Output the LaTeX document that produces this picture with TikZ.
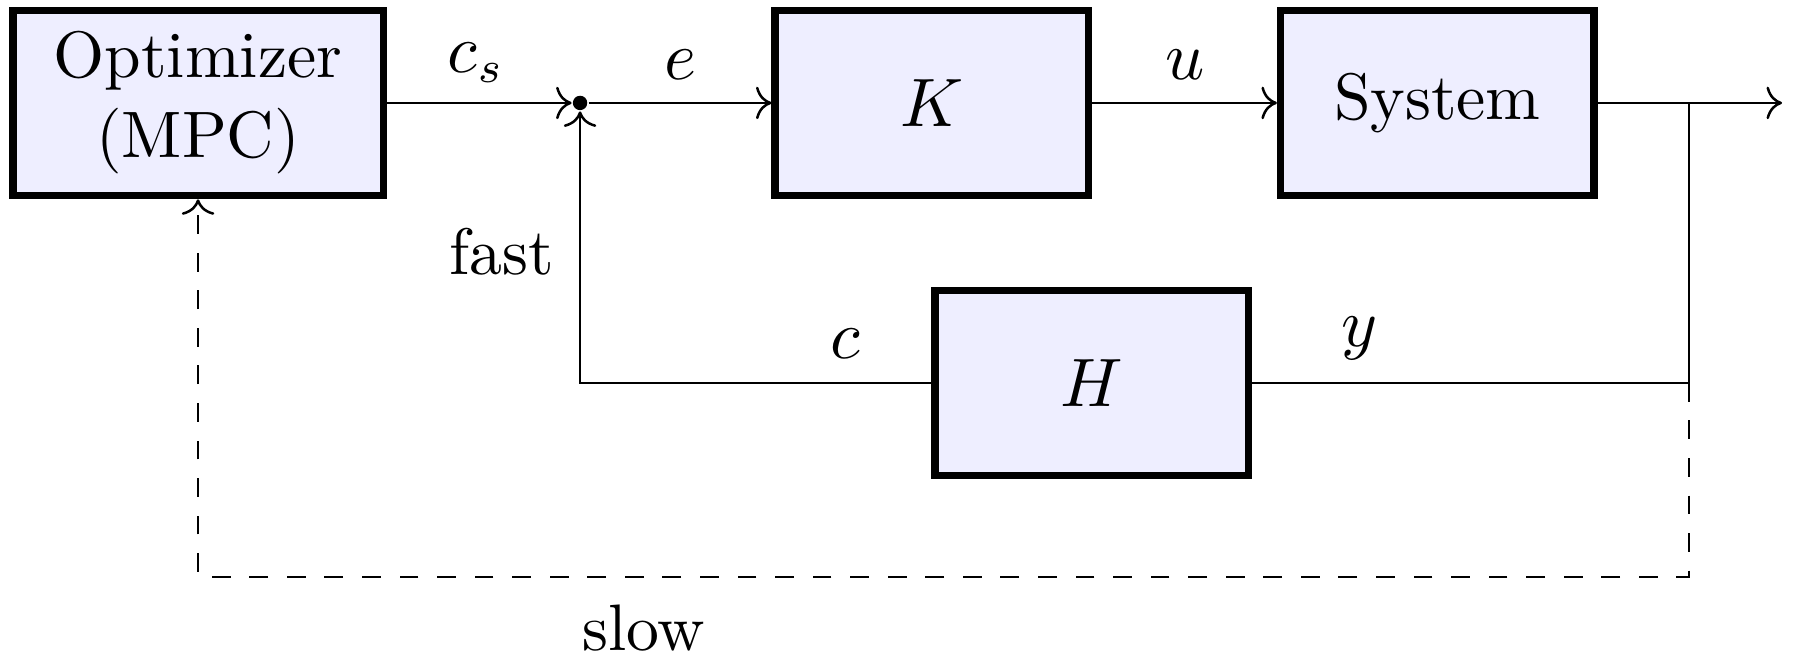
\documentclass[tikz,border=0pt]{standalone}
\usepackage{tikz}
\usetikzlibrary{arrows.meta,positioning,calc}
\definecolor{blockfill}{RGB}{238,238,255}

\begin{document}
\begin{tikzpicture}[
  every node/.style={font=\fontsize{10.5}{12.8}\selectfont},
  block/.style={draw=black, fill=blockfill, very thick, minimum width=1.76cm, minimum height=1.04cm, align=center},
  sig/.style={->}
]
  \useasboundingbox (0,0) rectangle (10.09,-3.683);

  %% Forward path
  \node[block, minimum width=2.08cm] (opt) at (1.112,-0.578) {Optimizer\\(MPC)};
  \node[block] (K) at (5.233,-0.578) {$K$};
  \node[block] (sys) at (8.071,-0.578) {System};
  \node[block] (H) at (6.131,-2.150) {$H$};

  \node[circle, fill=black, inner sep=0pt, minimum size=2.3pt] (sum) at (3.257,-0.578) {};
  \coordinate (br) at (9.483,-0.578);
  \coordinate (brlow) at (9.483,-2.150);
  \coordinate (outend) at (10.006,-0.578);
  \coordinate (slowcorner) at (9.483,-3.240);

  \draw[sig] (opt.east) -- (sum.west);
  \draw[sig] (sum.east) -- (K.west);
  \draw[sig] (K.east) -- (sys.west);
  \draw[sig] (sys.east) -- (outend);

  %% Fast loop
  \draw (br) -- (brlow) -- (H.east);
  \draw[sig] (H.west) -| (sum.south);

  %% Slow loop
  \draw[sig, dashed] (brlow) -- (slowcorner) -| (opt.south);

  %% Labels
  \node (lcs) at (2.673,-0.354) {$c_s$};
  \node (le) at (3.818,-0.365) {$e$};
  \node (lu) at (6.654,-0.365) {$u$};
  \node (lc) at (4.745,-1.931) {$c$};
  \node (ly) at (7.636,-1.898) {$y$};
  \node (lfast) at (2.819,-1.415) {fast};
  \node (lslow) at (3.616,-3.526) {slow};
\end{tikzpicture}
\end{document}
